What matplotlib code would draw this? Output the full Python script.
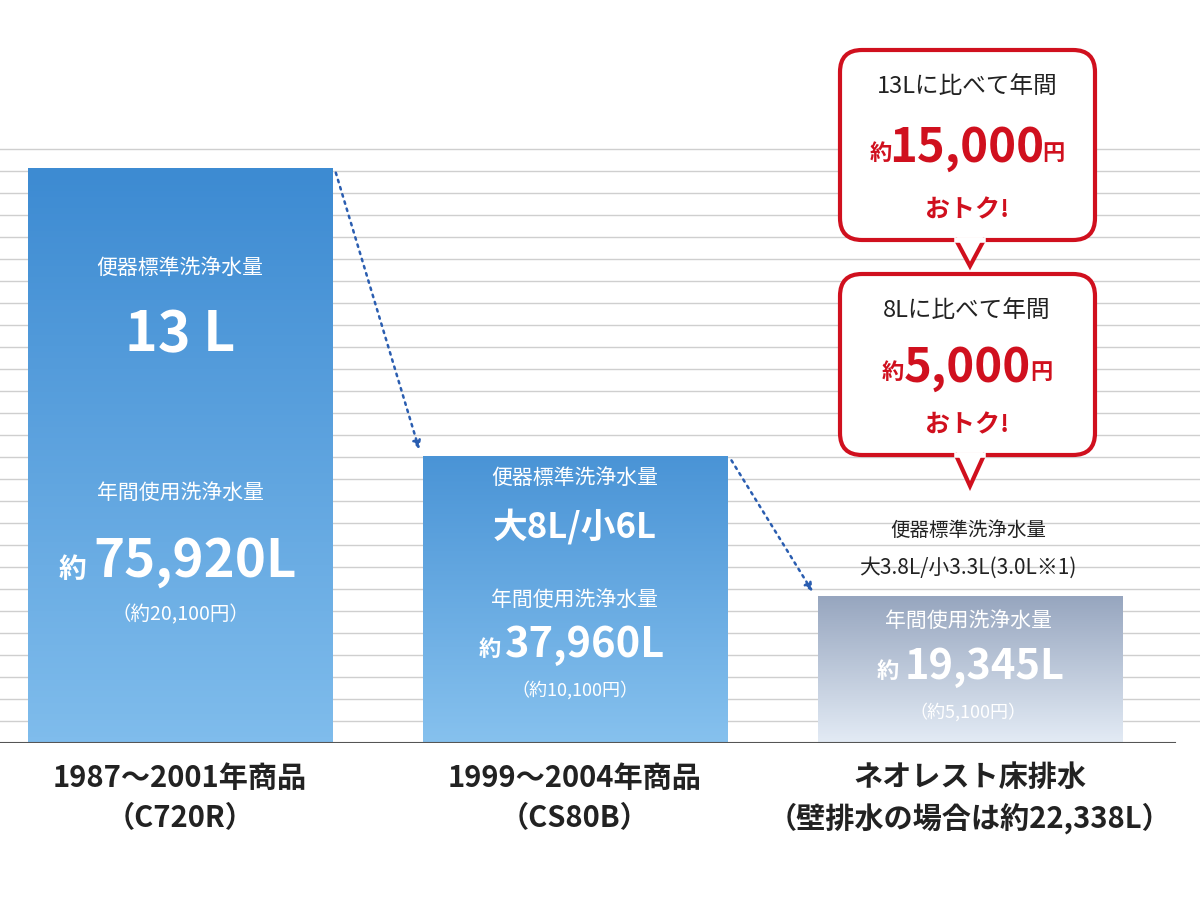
import matplotlib
matplotlib.use("Agg")
import matplotlib.pyplot as plt
import numpy as np
from matplotlib.patches import FancyBboxPatch, Polygon
from matplotlib.colors import LinearSegmentedColormap

plt.rcParams['font.family'] = ['Noto Sans CJK JP', 'DejaVu Sans']

categories = ["1987～2001年商品\n（C720R）", "1999～2004年商品\n（CS80B）", "ネオレスト床排水\n（壁排水の場合は約22,338L）"]
annual_water = [75920, 37960, 19345]
std_water = ["13 L", "大8L/小6L", "大3.8L/小3.3L(3.0L※1)"]
annual_labels = ["75,920L", "37,960L", "19,345L"]
yen_labels = ["（約20,100円）", "（約10,100円）", "（約5,100円）"]
savings = [("13Lに比べて年間", "15,000"), ("8Lに比べて年間", "5,000")]

W, H = 1200, 901
fig = plt.figure(figsize=(W/100, H/100), dpi=100)
base = 743
scale = 575/75920.0  # px per liter
ax = fig.add_axes([0, (H-base)/H, 1, base/H])
ymax = base/scale
ax.set_xlim(0, W); ax.set_ylim(0, ymax)
ax.axis('off')
# grid
step = 22/scale
y = 0
while y < (base-170)/scale:
    y += step
    ax.axhline(y, color='#cfcfcf', lw=1, zorder=0)
ax.axhline(0, color='#555555', lw=1.5, xmin=0, xmax=1175/W, zorder=5)

centers = [180, 575, 970]
width = 305
grads = [("#3d8bd2", "#7fbcec"), ("#4a94d6", "#86c1ee"), ("#97a6bf", "#e3ebf5")]
for c, v, (ct, cb) in zip(centers, annual_water, grads):
    b = ax.bar(c, v, width=width, color='none', zorder=2)[0]
    cmap = LinearSegmentedColormap.from_list('g', [cb, ct])
    im = ax.imshow(np.linspace(0, 1, 100).reshape(-1, 1), cmap=cmap, aspect='auto',
                   extent=[c-width/2, c+width/2, 0, v], origin='lower', zorder=1)
    im.set_clip_path(b)
ax.set_xlim(0, W); ax.set_ylim(0, ymax)

# overlay pixel axes
ov = fig.add_axes([0, 0, 1, 1]); ov.set_xlim(0, W); ov.set_ylim(H, 0); ov.axis('off')
for (x0, y0, x1, y1) in [(335, 170, 420, 452), (730, 458, 814, 594)]:
    ov.annotate('', xy=(x1, y1), xytext=(x0, y0),
                arrowprops=dict(arrowstyle='-|>', linestyle=(0, (1, 2)), color='#2a5db0', lw=1.8, mutation_scale=12))

wc = 'white'
ov.text(180, 268, "便器標準洗浄水量", color=wc, fontsize=15, ha='center', va='center')
ov.text(180, 335, std_water[0], color=wc, fontsize=40, ha='center', va='center', weight='bold')
ov.text(180, 493, "年間使用洗浄水量", color=wc, fontsize=15, ha='center', va='center')
ov.text(72, 570, "約", color=wc, fontsize=20, ha='center', va='center', weight='bold')
ov.text(195, 562, annual_labels[0], color=wc, fontsize=38, ha='center', va='center', weight='bold')
ov.text(180, 615, yen_labels[0], color=wc, fontsize=14, ha='center', va='center')
ov.text(575, 478, "便器標準洗浄水量", color=wc, fontsize=15, ha='center', va='center')
ov.text(575, 527, std_water[1], color=wc, fontsize=25, ha='center', va='center', weight='bold')
ov.text(575, 600, "年間使用洗浄水量", color=wc, fontsize=15, ha='center', va='center')
ov.text(490, 650, "約", color=wc, fontsize=16, ha='center', va='center', weight='bold')
ov.text(585, 645, annual_labels[1], color=wc, fontsize=30, ha='center', va='center', weight='bold')
ov.text(575, 690, yen_labels[1], color=wc, fontsize=13, ha='center', va='center')
ov.text(968, 530, "便器標準洗浄水量", color='#222222', fontsize=14, ha='center', va='center')
ov.text(968, 568, std_water[2], color='#222222', fontsize=15, ha='center', va='center')
ov.text(968, 621, "年間使用洗浄水量", color=wc, fontsize=15, ha='center', va='center')
ov.text(888, 672, "約", color=wc, fontsize=16, ha='center', va='center', weight='bold')
ov.text(985, 667, annual_labels[2], color=wc, fontsize=30, ha='center', va='center', weight='bold')
ov.text(968, 712, yen_labels[2], color=wc, fontsize=13, ha='center', va='center')

for c, lab in zip(centers, categories):
    ov.text(c, 798, lab, ha='center', va='center', fontsize=21, weight='bold', color='#222222', linespacing=1.4)

red = '#d0101e'
for (top, bot, tip), (l1, amt) in zip([(50, 240, 266), (274, 455, 486)], savings):
    ov.add_patch(FancyBboxPatch((840, top), 255, bot-top, boxstyle='round,pad=0,rounding_size=22',
                                fc='white', ec=red, lw=3, zorder=3))
    ov.add_patch(Polygon([(955, bot-2), (970, tip), (985, bot-2)], closed=False, fc='white', ec=red, lw=3, zorder=4))
    ov.plot([957, 983], [bot, bot], color='white', lw=4, zorder=5)
    cy = (top+bot)/2
    ov.text(967, top+36, l1, ha='center', va='center', fontsize=17, color='#222222', zorder=6)
    ov.text(967, cy+3, amt, ha='center', va='center', fontsize=34, weight='bold', color=red, zorder=6)
    w = 12*len(amt)+10
    ov.text(967-w-4, cy+8, "約", ha='center', va='center', fontsize=16, weight='bold', color=red, zorder=6)
    ov.text(967+w+4, cy+8, "円", ha='center', va='center', fontsize=16, weight='bold', color=red, zorder=6)
    ov.text(967, bot-30, "おトク!", ha='center', va='center', fontsize=18, weight='bold', color=red, zorder=6)

fig.savefig('out.png', dpi=100, facecolor='white')
